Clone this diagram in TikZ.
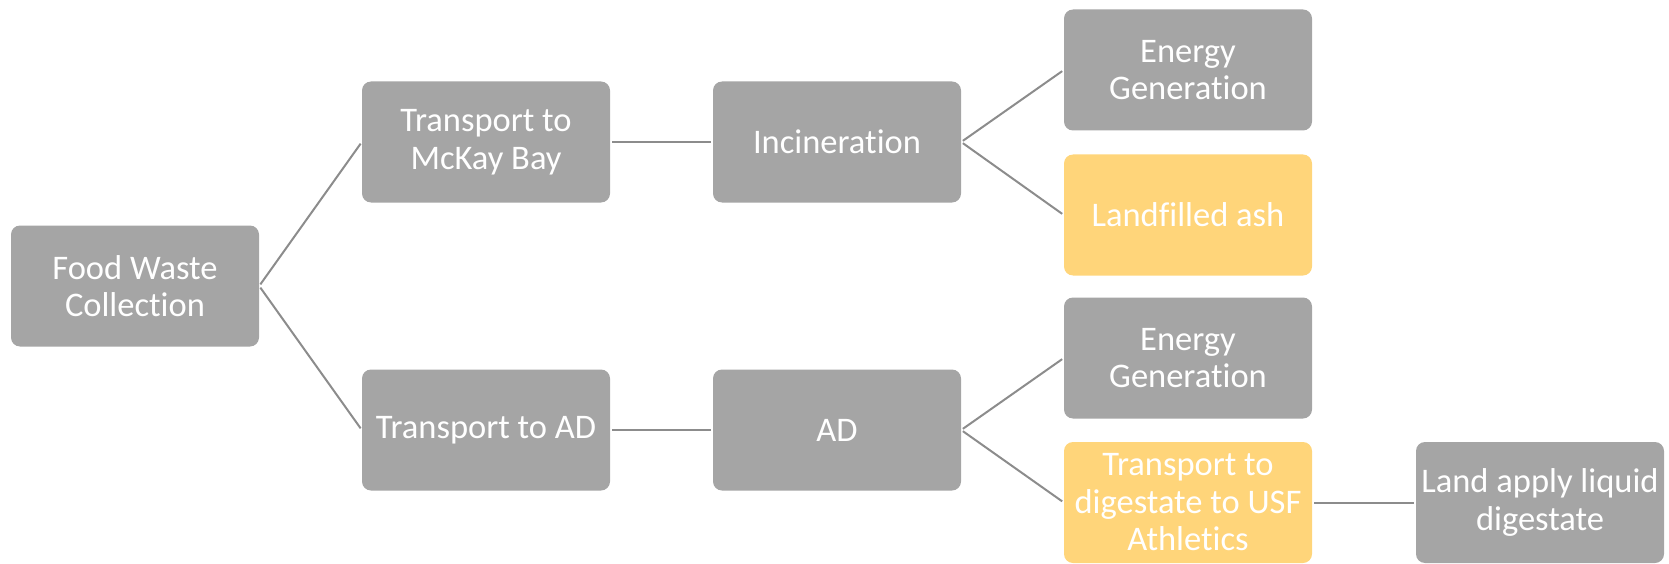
\documentclass[tikz,border=0pt]{standalone}
\usepackage{fontspec}
\setmainfont{Carlito}[Ligatures=NoCommon]
\definecolor{boxgray}{HTML}{A5A5A5}
\definecolor{boxgold}{HTML}{FFD57A}
\definecolor{linegray}{HTML}{8C8C8C}
\begin{document}
\begin{tikzpicture}[x=1pt,y=-1pt,
  box/.style={draw=none, fill=boxgray, rounded corners=9pt, minimum width=248pt, minimum height=121pt,
    inner sep=0pt, align=center, text=white, font=\fontsize{34.5}{37.5}\selectfont},
  goldbox/.style={box, fill=boxgold},
  conn/.style={draw=linegray, line width=2pt, shorten <=2pt, shorten >=2pt}]
\useasboundingbox (0,0) rectangle (1669,564);
\node[box] (fw) at (135,286) {Food Waste\\Collection};
\node[box] (mk) at (486,142) {Transport to\\McKay Bay};
\node[box] (inc) at (837,142) {Incineration};
\node[box] (e1) at (1188,70) {Energy\\Generation};
\node[goldbox] (la) at (1188,215) {Landfilled ash};
\node[box] (tad) at (486,430) {Transport to AD};
\node[box] (ad) at (837,430) {AD};
\node[box] (e2) at (1188,358) {Energy\\Generation};
\node[goldbox] (td) at (1188,502.5) {Transport to\\digestate to USF\\Athletics};
\node[box] (land) at (1540,502.5) {Land apply liquid\\digestate};
\draw[conn] (fw.east) -- (mk.west);
\draw[conn] (fw.east) -- (tad.west);
\draw[conn] (mk.east) -- (inc.west);
\draw[conn] (inc.east) -- (e1.west);
\draw[conn] (inc.east) -- (la.west);
\draw[conn] (tad.east) -- (ad.west);
\draw[conn] (ad.east) -- (e2.west);
\draw[conn] (ad.east) -- (td.west);
\draw[conn] (td.east) -- (land.west);
\end{tikzpicture}
\end{document}
